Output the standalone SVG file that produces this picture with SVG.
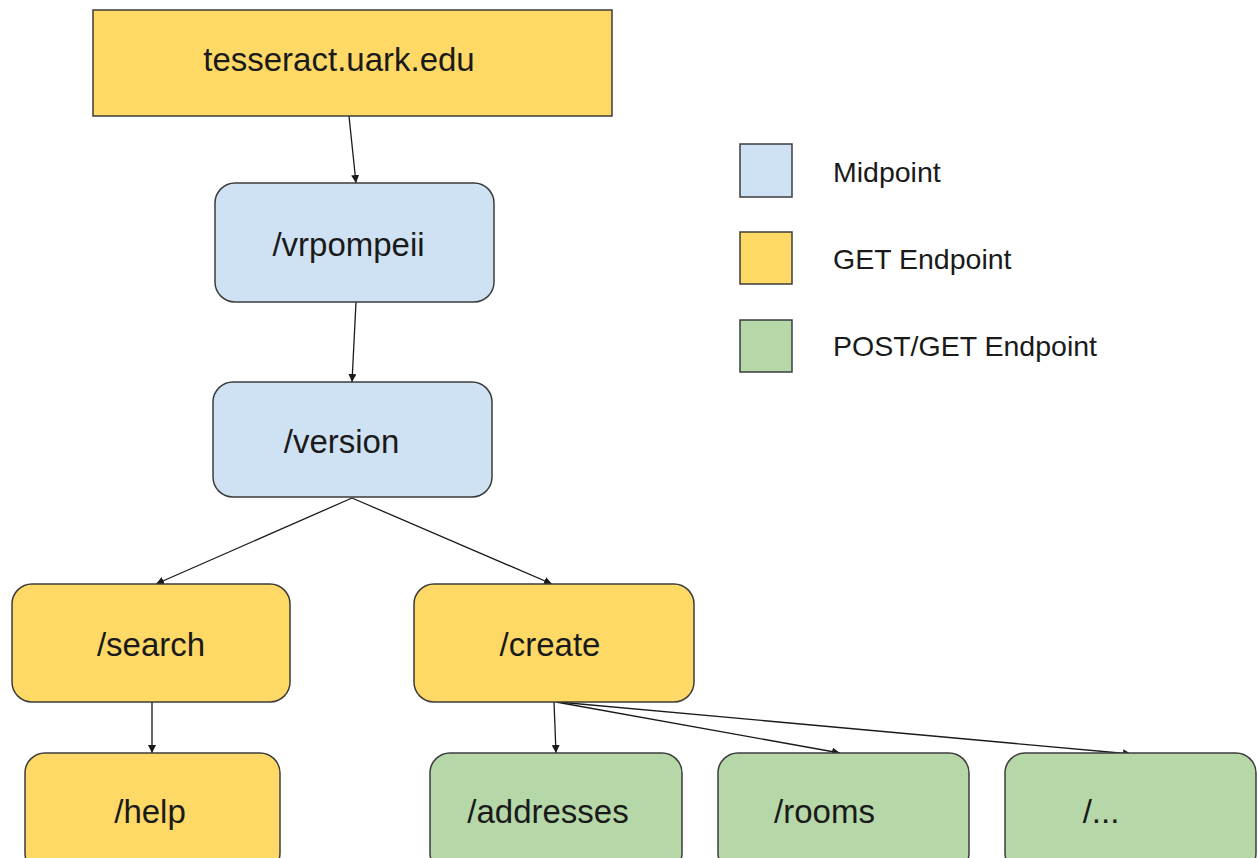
<svg xmlns="http://www.w3.org/2000/svg" width="1258" height="858" viewBox="0 0 1258 858">
<style>
.box{stroke:#3c3c3c;stroke-width:1.5}
.mid{fill:#cfe2f3}
.get{fill:#ffd966}
.post{fill:#b6d7a8}
.lbl{font-family:"Liberation Sans",Arial,sans-serif;font-size:33px;fill:#1a1a1a;text-anchor:middle}
.leg{font-family:"Liberation Sans",Arial,sans-serif;font-size:28.5px;fill:#1a1a1a}
.con{stroke:#1a1a1a;stroke-width:1.3;fill:none;marker-end:url(#ah)}
</style>
<defs>
<marker id="ah" viewBox="0 0 10 10" refX="10" refY="5" markerWidth="8" markerHeight="8" markerUnits="userSpaceOnUse" orient="auto">
<path d="M0,0 L10,5 L0,10 z" fill="#1a1a1a"/>
</marker>
</defs>
<rect width="1258" height="858" fill="#ffffff"/>
<g id="connectors">
<line class="con" x1="349" y1="116" x2="356" y2="183"/>
<line class="con" x1="356" y1="302" x2="352" y2="382"/>
<line class="con" x1="352" y1="498" x2="156" y2="584"/>
<line class="con" x1="352" y1="498" x2="552" y2="584"/>
<line class="con" x1="152" y1="702" x2="152" y2="753"/>
<line class="con" x1="554" y1="702" x2="556" y2="753"/>
<line class="con" x1="556" y1="702" x2="840" y2="753"/>
<line class="con" x1="558" y1="702" x2="1131" y2="754"/>
</g>
<g id="node-root"><rect class="box get" x="93" y="10" width="519" height="106"/><text class="lbl" x="339" y="71">tesseract.uark.edu</text></g>
<g id="node-vrpompeii"><rect class="box mid" x="215" y="183" width="279" height="119" rx="20"/><text class="lbl" x="348.5" y="256">/vrpompeii</text></g>
<g id="node-version"><rect class="box mid" x="213" y="382" width="279" height="115" rx="20"/><text class="lbl" x="341.5" y="453">/version</text></g>
<g id="node-search"><rect class="box get" x="12" y="584" width="278" height="118" rx="20"/><text class="lbl" x="151" y="656">/search</text></g>
<g id="node-create"><rect class="box get" x="414" y="584" width="280" height="118" rx="20"/><text class="lbl" x="550" y="656">/create</text></g>
<g id="node-help"><rect class="box get" x="25" y="753" width="255" height="120" rx="20"/><text class="lbl" x="150" y="823">/help</text></g>
<g id="node-addresses"><rect class="box post" x="430" y="753" width="252" height="120" rx="20"/><text class="lbl" x="548" y="823">/addresses</text></g>
<g id="node-rooms"><rect class="box post" x="718" y="753" width="251" height="120" rx="20"/><text class="lbl" x="824.5" y="823">/rooms</text></g>
<g id="node-more"><rect class="box post" x="1005" y="753" width="251" height="120" rx="20"/><text class="lbl" x="1101" y="823">/...</text></g>
<g id="legend">
<rect class="box mid" x="740" y="144" width="52" height="53"/><text class="leg" x="833" y="182">Midpoint</text>
<rect class="box get" x="740" y="232" width="52" height="52"/><text class="leg" x="833" y="269">GET Endpoint</text>
<rect class="box post" x="740" y="320" width="52" height="52"/><text class="leg" x="833" y="356">POST/GET Endpoint</text>
</g>
</svg>
